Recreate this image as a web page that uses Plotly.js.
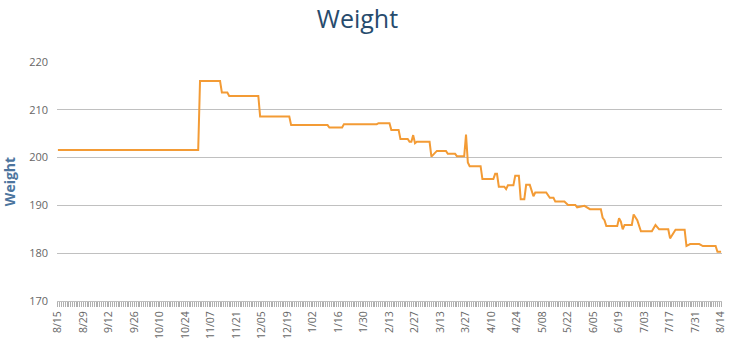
<!DOCTYPE html>
<html>
<head>
<meta charset="utf-8">
<script src="https://cdn.plot.ly/plotly-3.0.1.min.js"></script>
<style>html,body{margin:0;padding:0;background:#fff;}#chart{width:734px;height:353px;}</style>
</head>
<body>
<div id="chart"></div>
<script>
// Vertices of the weight line (date, weight)
const dates = [
  "2014-08-15","2014-10-31","2014-11-01","2014-11-12","2014-11-13","2014-11-16","2014-11-17",
  "2014-12-03","2014-12-04","2014-12-20","2014-12-21","2015-01-10","2015-01-11","2015-01-18",
  "2015-01-19","2015-02-06","2015-02-07","2015-02-13","2015-02-14","2015-02-18","2015-02-19",
  "2015-02-23","2015-02-24","2015-02-25","2015-02-26","2015-02-27","2015-02-28","2015-03-07",
  "2015-03-08","2015-03-10","2015-03-11","2015-03-16","2015-03-17","2015-03-21","2015-03-22",
  "2015-03-26","2015-03-27","2015-03-28","2015-03-29","2015-04-04","2015-04-05","2015-04-11",
  "2015-04-12","2015-04-13","2015-04-14","2015-04-17","2015-04-18","2015-04-19","2015-04-22",
  "2015-04-23","2015-04-25","2015-04-26","2015-04-28","2015-04-29","2015-05-01","2015-05-03",
  "2015-05-04","2015-05-10","2015-05-12","2015-05-14","2015-05-15","2015-05-20","2015-05-22",
  "2015-05-26","2015-05-27","2015-05-31","2015-06-03","2015-06-09","2015-06-10","2015-06-11",
  "2015-06-12","2015-06-18","2015-06-19","2015-06-20","2015-06-21","2015-06-22","2015-06-26",
  "2015-06-27","2015-06-29","2015-07-01","2015-07-07","2015-07-09","2015-07-11","2015-07-16",
  "2015-07-17","2015-07-18","2015-07-20","2015-07-25","2015-07-26","2015-07-28","2015-08-02",
  "2015-08-04","2015-08-11","2015-08-12","2015-08-14"
];
const weights = [
  201.6,201.6,216.0,216.0,213.6,213.6,212.9,
  212.9,208.6,208.6,206.8,206.8,206.3,206.3,
  207.0,207.0,207.2,207.2,205.8,205.8,203.9,
  203.9,203.3,203.3,204.7,203.0,203.3,203.3,
  200.2,200.9,201.4,201.4,200.8,200.8,200.3,
  200.3,204.8,199.0,198.2,198.2,195.5,195.5,
  196.6,196.6,193.9,193.9,193.4,194.2,194.2,
  196.2,196.2,191.3,191.3,194.3,194.3,191.9,
  192.7,192.7,191.6,191.6,190.8,190.8,190.1,
  190.1,189.6,189.9,189.2,189.2,187.4,186.9,
  185.7,185.7,187.3,186.6,185.0,185.9,185.9,
  188.1,186.9,184.6,184.6,185.9,185.0,185.0,
  183.1,183.7,184.9,184.9,181.5,181.9,181.9,
  181.5,181.5,180.3,180.3
];
const chartTitle = "Weight";
const yTitle = "Weight";

const trace = {
  x: dates, y: weights, type: "scatter", mode: "lines",
  line: {color: "#f39b35", width: 2, shape: "linear"},
  hoverinfo: "x+y"
};

const layout = {
  width: 734, height: 353,
  margin: {l: 57, r: 12, t: 62, b: 52},
  paper_bgcolor: "#ffffff", plot_bgcolor: "#ffffff",
  showlegend: false,
  title: {text: chartTitle, x: 0.487, xref: "container", y: 0.945, yref: "container", yanchor: "middle",
          font: {family: "Open Sans, sans-serif", size: 25, color: "#274b6d"}},
  xaxis: {
    type: "date",
    range: ["2014-08-14 12:00", "2015-08-14 12:00"],
    tick0: "2014-08-15", dtick: 14 * 86400000,
    tickformat: "%-m/%d", tickangle: -90,
    ticks: "outside", ticklen: 5, tickwidth: 1, tickcolor: "#b0b0b0",
    minor: {dtick: 86400000, ticks: "outside", ticklen: 5, tickwidth: 1, tickcolor: "#b0b0b0", showgrid: false},
    showgrid: false, zeroline: false,
    showline: true, linecolor: "#c0c0c0", linewidth: 1,
    tickfont: {family: "Open Sans, sans-serif", size: 10.5, color: "#666666"},
    fixedrange: true
  },
  yaxis: {
    range: [170, 220], dtick: 10, tick0: 170,
    showgrid: true, gridcolor: "#c0c0c0", gridwidth: 1,
    zeroline: false, showline: false, ticks: "",
    ticklabelstandoff: 8,
    tickfont: {family: "Open Sans, sans-serif", size: 11, color: "#666666"},
    title: {text: yTitle, standoff: 10, font: {family: "Open Sans, sans-serif", size: 14, color: "#4d759e", weight: "bold"}},
    fixedrange: true
  }
};

Plotly.newPlot("chart", [trace], layout, {displayModeBar: false, staticPlot: true});
</script>
</body>
</html>
